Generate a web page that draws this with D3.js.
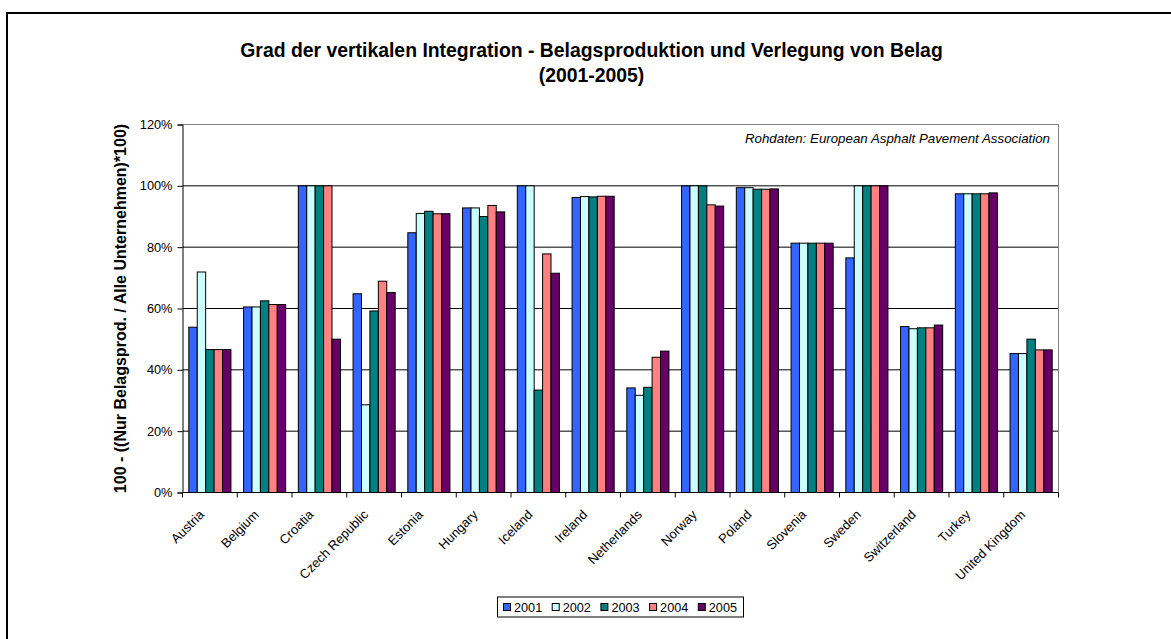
<!DOCTYPE html>
<html>
<head>
<meta charset="utf-8">
<script src="https://cdn.jsdelivr.net/npm/d3@7"></script>
<style>
  body { margin: 0; background: #fff; }
  text { font-family: "Liberation Sans", Arial, sans-serif; fill: #000; }
</style>
</head>
<body>
<div id="chart"></div>
<script>
// Categories and series (values in %)
const countries = ["Austria", "Belgium", "Croatia", "Czech Republic", "Estonia", "Hungary",
  "Iceland", "Ireland", "Netherlands", "Norway", "Poland", "Slovenia", "Sweden",
  "Switzerland", "Turkey", "United Kingdom"];
const years = ["2001", "2002", "2003", "2004", "2005"];

const v2001 = [53.9, 60.5, 100, 64.8, 84.7, 92.8, 100, 96.2, 34.1, 100, 99.4, 81.3, 76.5, 54.1, 97.4, 45.3];
const v2002 = [71.9, 60.5, 100, 28.6, 91.0, 92.8, 100, 96.5, 31.7, 100, 99.4, 81.3, 100, 53.4, 97.4, 45.3];
const v2003 = [46.6, 62.5, 100, 59.2, 91.7, 90.0, 33.4, 96.4, 34.3, 100, 98.9, 81.3, 100, 53.7, 97.4, 50.0];
const v2004 = [46.6, 61.3, 100, 68.9, 90.9, 93.6, 77.8, 96.6, 44.1, 93.8, 98.9, 81.3, 100, 53.7, 97.4, 46.5];
const v2005 = [46.6, 61.3, 50.0, 65.2, 90.9, 91.5, 71.5, 96.6, 46.1, 93.4, 99.0, 81.3, 100, 54.6, 97.7, 46.5];

const yTicks = [0, 20, 40, 60, 80, 100, 120];
const colors = ["#3366FF", "#CCFFFF", "#008080", "#FF8080", "#660066"];

const titleLines = ["Grad der vertikalen Integration - Belagsproduktion und Verlegung von Belag", "(2001-2005)"];
const yLabel = "100 - ((Nur Belagsprod. / Alle Unternehmen)*100)";
const sourceNote = "Rohdaten: European Asphalt Pavement Association";

// build table from the arrays
const series = [v2001, v2002, v2003, v2004, v2005];
const data = countries.map((c, i) => ({
  country: c,
  values: years.map((y, j) => ({ year: y, value: series[j][i], idx: j }))
}));

const svgWidth = 1171;
const svgHeight = 639;
const plot = { left: 182.5, right: 1058.5, top: 124.5, bottom: 492.5 };

const svg = d3.select("#chart")
  .append("svg")
  .attr("width", svgWidth)
  .attr("height", svgHeight);

svg.append("rect")
  .attr("width", svgWidth)
  .attr("height", svgHeight)
  .attr("fill", "#fff");

// outer chart border (runs off the right and bottom edges)
svg.append("rect")
  .attr("x", 7)
  .attr("y", 13)
  .attr("width", 1300)
  .attr("height", 800)
  .attr("fill", "none")
  .attr("stroke", "#000")
  .attr("stroke-width", 2);

// scales
const x0 = d3.scaleBand()
  .domain(countries)
  .range([plot.left, plot.right]);

const step = x0.step();
const barW = step / 6.5;   // gap width 150%
const x1 = d3.scaleBand()
  .domain(years)
  .range([barW * 0.75, step - barW * 0.75]);

const y = d3.scaleLinear()
  .domain([0, 120])
  .range([plot.bottom, plot.top]);

// gridlines
svg.append("g")
  .selectAll("line")
  .data(yTicks.filter(t => t > 0 && t < 120))
  .enter()
  .append("line")
  .attr("x1", plot.left)
  .attr("x2", plot.right)
  .attr("y1", d => y(d))
  .attr("y2", d => y(d))
  .attr("stroke", "#000")
  .attr("stroke-width", 1);

// plot area border top + right (grey)
svg.append("path")
  .attr("d", `M${plot.left},${y(120)}H${plot.right}V${plot.bottom}`)
  .attr("fill", "none")
  .attr("stroke", "#808080")
  .attr("stroke-width", 1);

// bars
const groups = svg.append("g")
  .selectAll("g")
  .data(data)
  .enter()
  .append("g")
  .attr("transform", d => `translate(${x0(d.country)},0)`);

groups.selectAll("rect")
  .data(d => d.values)
  .enter()
  .append("rect")
  .attr("x", d => x1(d.year))
  .attr("width", x1.bandwidth())
  .attr("y", d => y(d.value))
  .attr("height", d => y(0) - y(d.value))
  .attr("fill", d => colors[d.idx])
  .attr("stroke", "#000")
  .attr("stroke-width", 1);

// y axis
const leftAxis = d3.axisLeft(y)
  .tickValues(yTicks)
  .tickSize(5)
  .tickPadding(5)
  .tickFormat(d => d + "%");

const yAxisG = svg.append("g")
  .attr("transform", `translate(${plot.left},0)`)
  .call(leftAxis);
yAxisG.select(".domain").attr("stroke", "#000");
yAxisG.selectAll(".tick line").attr("stroke", "#000");
yAxisG.selectAll("text")
  .style("font-family", "'Liberation Sans', Arial, sans-serif")
  .style("font-size", "12.8px")
  .attr("fill", "#000");

// x axis: ticks at category boundaries
svg.append("line")
  .attr("x1", plot.left)
  .attr("x2", plot.right)
  .attr("y1", plot.bottom)
  .attr("y2", plot.bottom)
  .attr("stroke", "#000");

svg.append("g")
  .selectAll("line")
  .data(countries.concat([null]))
  .enter()
  .append("line")
  .attr("x1", (d, i) => plot.left + i * step)
  .attr("x2", (d, i) => plot.left + i * step)
  .attr("y1", plot.bottom)
  .attr("y2", plot.bottom + 5)
  .attr("stroke", "#000");

svg.append("g")
  .selectAll("text")
  .data(countries)
  .enter()
  .append("text")
  .attr("transform", d => `translate(${x0(d) + step / 2 - 5},${plot.bottom + 23}) rotate(-45)`)
  .attr("text-anchor", "end")
  .style("font-size", "13px")
  .text(d => d);

// title
svg.append("g")
  .selectAll("text")
  .data(titleLines)
  .enter()
  .append("text")
  .attr("x", 591.5)
  .attr("y", (d, i) => 57 + i * 25)
  .attr("text-anchor", "middle")
  .style("font-size", "19.4px")
  .style("font-weight", "bold")
  .text(d => d);

// y axis title
svg.append("text")
  .attr("transform", `translate(126,${(plot.top + plot.bottom) / 2}) rotate(-90)`)
  .attr("text-anchor", "middle")
  .style("font-size", "16px")
  .style("font-weight", "bold")
  .text(yLabel);

// source note
svg.append("text")
  .attr("x", 1050)
  .attr("y", 143)
  .attr("text-anchor", "end")
  .style("font-size", "13.3px")
  .style("font-style", "italic")
  .text(sourceNote);

// legend
const itemW = 48.7;
const legW = 246;
const legX = (plot.left + plot.right) / 2 - legW / 2;
const legY = 597;

svg.append("rect")
  .attr("x", legX)
  .attr("y", legY)
  .attr("width", legW)
  .attr("height", 20)
  .attr("fill", "#fff")
  .attr("stroke", "#000");

const legendItems = svg.append("g")
  .selectAll("g")
  .data(years)
  .enter()
  .append("g")
  .attr("transform", (d, i) => `translate(${legX + 6 + i * itemW},${legY + 10})`);

legendItems.append("rect")
  .attr("x", 0)
  .attr("y", -3.5)
  .attr("width", 7)
  .attr("height", 7)
  .attr("fill", (d, i) => colors[i])
  .attr("stroke", "#000");

legendItems.append("text")
  .attr("x", 10.5)
  .attr("y", 4.5)
  .style("font-size", "12.7px")
  .text(d => d);
</script>
</body>
</html>
